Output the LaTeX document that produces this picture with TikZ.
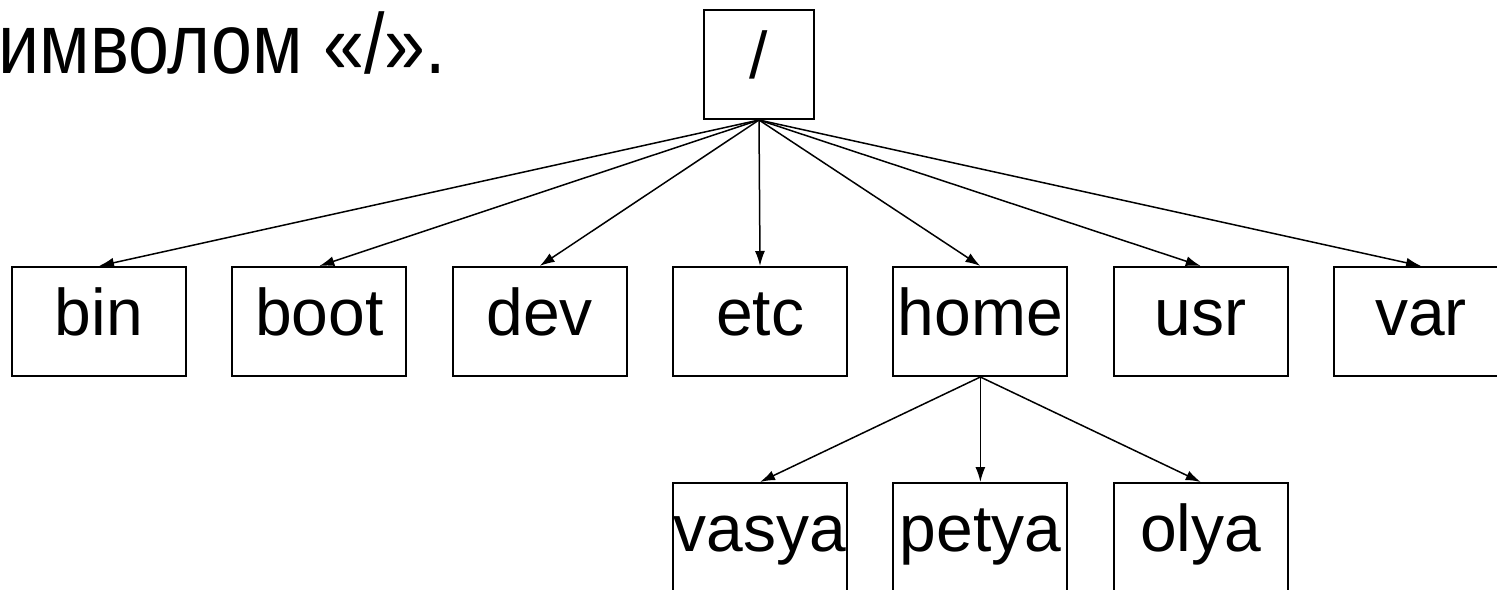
\documentclass[tikz,border=0pt]{standalone}
\usepackage{fontspec}
\setmainfont{Liberation Sans}
\usepackage{tikz}
\usetikzlibrary{arrows.meta}

\begin{document}
\begin{tikzpicture}[->,>={Latex[length=7.5pt,width=5pt]},line width=0.75pt,
  node distance=110.17pt,
  root node/.style={rectangle,draw,line width=1pt,inner sep=0pt,
                   minimum width=55pt,minimum height=54.5pt,
                   font=\fontsize{33pt}{40pt}\selectfont,
                   text height=25pt,text depth=11.5pt},
  dir node/.style={root node,minimum width=87pt}]

  \useasboundingbox (0pt,0pt) rectangle (748.5pt,-294.5pt);
  \clip (0pt,0pt) rectangle (748.5pt,-294.5pt);

  \node[anchor=base west,inner sep=0pt,font=\fontsize{39.5pt}{47pt}\selectfont]
    (caption) at (-1pt,-36.5pt) {\scalebox{0.93}[1.08]{имволом «/».}};

  \node[root node] (root) at (379.5pt,-32.25pt) {/};

  \node[dir node] (bin) at (49.5pt,-160.75pt) {bin};
  \node[dir node] (boot) [right of=bin]  {boot};
  \node[dir node] (dev)  [right of=boot] {dev};
  \node[dir node] (etc)  [right of=dev]  {etc};
  \node[dir node] (home) [right of=etc]  {home};
  \node[dir node] (usr)  [right of=home] {usr};
  \node[dir node] (var)  [right of=usr]  {var};

  \node[dir node] (petya) [below of=home,node distance=108pt] {petya};
  \node[dir node] (vasya) [left of=petya]  {vasya};
  \node[dir node] (olya)  [right of=petya] {olya};

  % root to top level
  \foreach \d in {bin,boot,dev,etc,home,usr,var}
    \draw (root.south) -- (\d.north);

  % home to users
  \foreach \u in {vasya,petya,olya}
    \draw (home.south) -- (\u.north);

\end{tikzpicture}
\end{document}
